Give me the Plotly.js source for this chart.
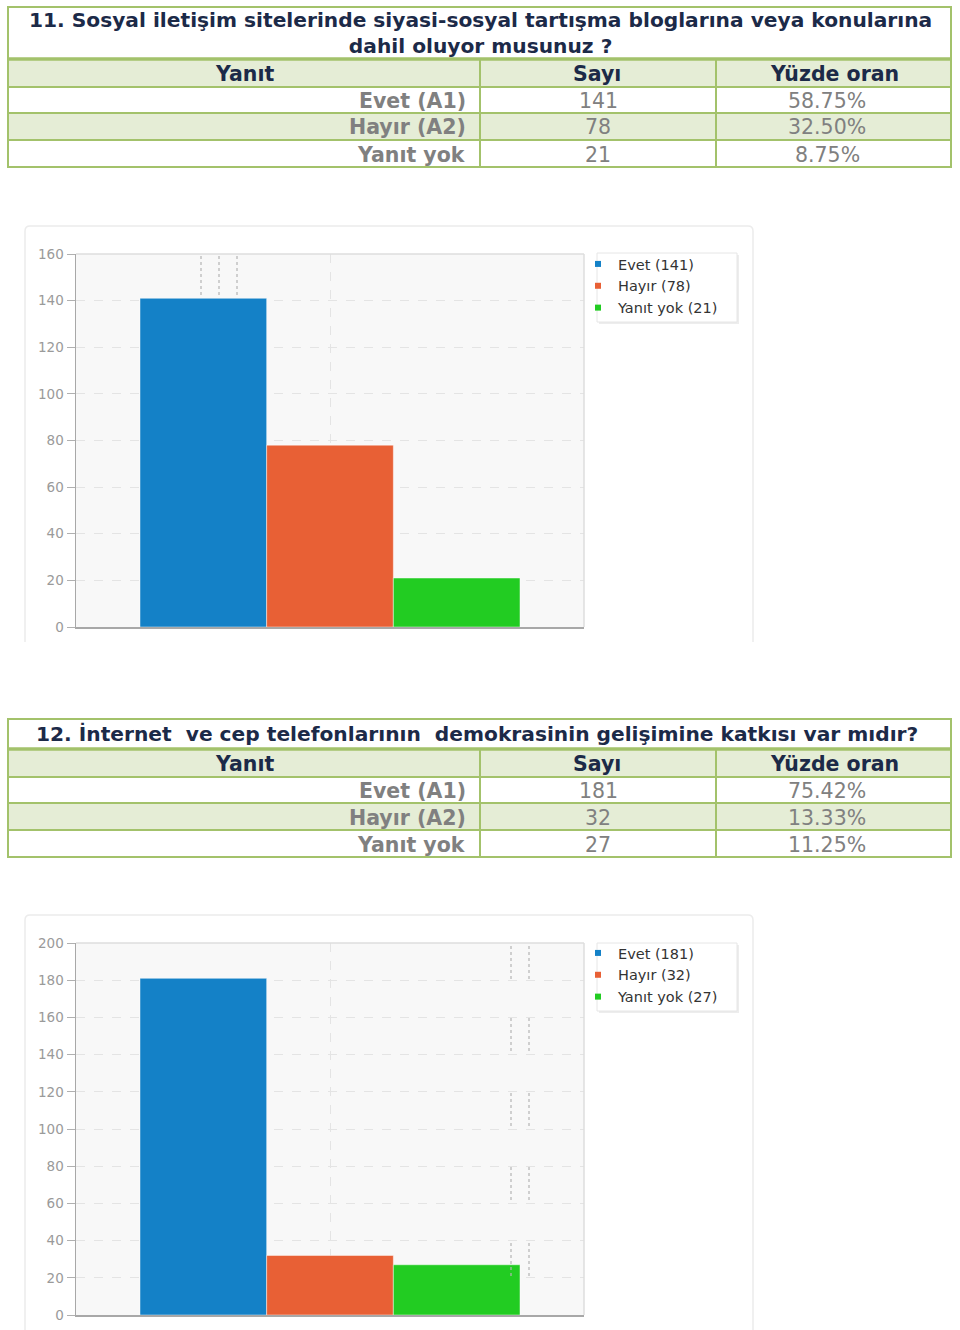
<!DOCTYPE html>
<html>
<head>
<meta charset="utf-8">
<script src="https://cdn.plot.ly/plotly-3.0.1.min.js"></script>
<style>
  html, body { margin: 0; padding: 0; background: #ffffff; }
  #chart { width: 960px; height: 1330px; }
</style>
</head>
<body>
<div id="chart"></div>
<script>
// ---------- DATA ----------
const headers = ['Yanıt', 'Sayı', 'Yüzde oran'];
const answerLabels = ['Evet (A1)', 'Hayır (A2)', 'Yanıt yok'];
const seriesNames = ['Evet', 'Hayır', 'Yanıt yok'];

const q11Title = ['11. Sosyal iletişim sitelerinde siyasi-sosyal tartışma bloglarına veya konularına', 'dahil oluyor musunuz ?'];
const q11Counts = [141, 78, 21];
const q11Percents = ['58.75%', '32.50%', '8.75%'];

const q12Title = ['12. İnternet\u00a0 ve cep telefonlarının\u00a0 demokrasinin gelişimine katkısı var mıdır?'];
const q12Counts = [181, 32, 27];
const q12Percents = ['75.42%', '13.33%', '11.25%'];

// ---------- STYLE ----------
const W = 960, H = 1330;
const FONT = 'DejaVu Sans, Verdana, sans-serif';
const seriesColors = ['#1481c7', '#e86035', '#22cc22'];
const tableLine = '#a3c26b';
const tableFill = '#e5edd6';
const navy = '#1c2a48';
const gray = '#808080';

function X(p) { return p / W; }
function Y(p) { return 1 - p / H; }

const shapes = [];
const annotations = [];

function rect(x0, y0, x1, y1, opts) {
  shapes.push(Object.assign({
    type: 'rect', xref: 'paper', yref: 'paper',
    x0: X(x0), x1: X(x1), y0: Y(y0), y1: Y(y1), layer: 'above'
  }, opts));
}
function line(x0, y0, x1, y1, color, width, dash) {
  shapes.push({
    type: 'line', xref: 'paper', yref: 'paper',
    x0: X(x0), x1: X(x1), y0: Y(y0), y1: Y(y1), layer: 'above',
    line: { color: color, width: width, dash: dash || 'solid' }
  });
}
function text(str, x, y, opts) {
  annotations.push(Object.assign({
    xref: 'paper', yref: 'paper', x: X(x), y: Y(y), text: str, showarrow: false,
    xanchor: 'center', yanchor: 'middle'
  }, opts));
}

// table builder
function drawTable(t, titleLines, counts, percents) {
  const L = 8, R = 951, C1 = 480, C2 = 716;
  rect(L, t.sep, R, t.rows[0], { fillcolor: tableFill, line: { width: 0 } });
  rect(L, t.rows[1], R, t.rows[2], { fillcolor: tableFill, line: { width: 0 } });
  t.rows.forEach(function (yy) { line(L, yy, R, yy, tableLine, 2); });
  line(L, t.sep, R, t.sep, tableLine, 3.5);
  line(C1, t.sep, C1, t.bottom, tableLine, 2);
  line(C2, t.sep, C2, t.bottom, tableLine, 2);
  rect(L, t.top, R, t.bottom, { line: { color: tableLine, width: 2 }, fillcolor: 'rgba(0,0,0,0)' });
  text(titleLines.join('<br>'), t.titleX, t.titleY, {
    font: { family: FONT, size: 20.2, color: navy, weight: 700 }
  });
  const hy = (t.sep + t.rows[0]) / 2 + 1;
  const hf = { family: FONT, size: 20.5, color: navy, weight: 700 };
  text(headers[0], 244, hy, { font: hf });
  text(headers[1], 597, hy, { font: hf });
  text(headers[2], 834, hy, { font: hf });
  const bounds = [t.rows[0], t.rows[1], t.rows[2], t.bottom];
  for (let i = 0; i < answerLabels.length; i++) {
    const cy = (bounds[i] + bounds[i + 1]) / 2 + 1;
    text(answerLabels[i], 468, cy, { xanchor: 'right', font: { family: FONT, size: 20.5, color: gray, weight: 700 } });
    text(String(counts[i]), 598, cy, { font: { family: FONT, size: 20.5, color: gray } });
    text(percents[i], 827, cy, { font: { family: FONT, size: 20.5, color: gray } });
  }
}

drawTable({ top: 7, sep: 59, rows: [87, 113, 140], bottom: 167, titleX: 480, titleY: 32.5 }, q11Title, q11Counts, q11Percents);
drawTable({ top: 719, sep: 749, rows: [777, 803, 830], bottom: 857, titleX: 477, titleY: 734 }, q12Title, q12Counts, q12Percents);

// chart cards (rounded top corners)
function card(top, bottom) {
  const l = X(25), r = X(753), t = Y(top), b = Y(bottom);
  const rx = 5 / W, ry = 5 / H;
  shapes.push({
    type: 'path', xref: 'paper', yref: 'paper', layer: 'below',
    path: 'M ' + l + ' ' + b + ' L ' + l + ' ' + (t - ry) + ' Q ' + l + ' ' + t + ' ' + (l + rx) + ' ' + t +
          ' L ' + (r - rx) + ' ' + t + ' Q ' + r + ' ' + t + ' ' + r + ' ' + (t - ry) + ' L ' + r + ' ' + b,
    line: { color: '#ececec', width: 1.5 }, fillcolor: 'rgba(0,0,0,0)'
  });
}
card(226, 642);
card(915, 1332);

// plot area top/right borders
function plotBorder(top, bottom) {
  line(76, top, 584, top, '#dedede', 1.5);
  line(584, top, 584, bottom, '#dedede', 1.5);
}
plotBorder(254, 627);
plotBorder(943, 1315);

// dotted artifacts
[201, 219, 237].forEach(function (x) { line(x, 256, x, 296, '#b5b5b5', 1.2, 'dot'); });
[[946, 980], [1018, 1052], [1093, 1128], [1167, 1200], [1243, 1277]].forEach(function (s) {
  line(511, s[0], 511, s[1], '#b5b5b5', 1.2, 'dot');
  line(529, s[0], 529, s[1], '#b5b5b5', 1.2, 'dot');
});

// legend boxes (with soft shadow)
function legendBox(top, bottom) {
  rect(599, top + 2, 739, bottom + 2, { fillcolor: '#ededed', line: { width: 0 } });
  rect(597, top, 737, bottom, { fillcolor: '#ffffff', line: { color: '#e6e6e6', width: 1 } });
}
legendBox(253, 322);
legendBox(943, 1011);

// ---------- TRACES ----------
const traces = [];
function addChart(counts, xa, ya, legendId) {
  for (let i = 0; i < seriesNames.length; i++) {
    traces.push({
      type: 'bar', x: [0], y: [counts[i]], xaxis: xa, yaxis: ya,
      name: seriesNames[i], showlegend: false, hoverinfo: 'skip',
      marker: { color: seriesColors[i], line: { color: 'rgba(255,255,255,0.45)', width: 1 } }
    });
  }
  for (let i = 0; i < seriesNames.length; i++) {
    traces.push({
      type: 'scatter', mode: 'markers', x: [null], y: [null], xaxis: xa, yaxis: ya,
      name: seriesNames[i] + ' (' + counts[i] + ')', legend: legendId, showlegend: true,
      marker: { color: seriesColors[i], symbol: 'square', size: 6 }
    });
  }
}
addChart(q11Counts, 'x', 'y', 'legend');
addChart(q12Counts, 'x2', 'y2', 'legend2');

const xCommon = {
  range: [-0.5, 0.5], tickvals: [0], showticklabels: false, ticks: '',
  showgrid: true, gridcolor: '#e4e4e4', griddash: 'dash', gridwidth: 1,
  zeroline: false, showline: true, linecolor: '#a8a8a8', linewidth: 1.5, fixedrange: true,
  domain: [X(76), X(584)]
};
const yCommon = {
  dtick: 20, ticks: 'outside', ticklen: 8, tickcolor: '#b0b0b0', tickwidth: 1,
  showgrid: true, gridcolor: '#e4e4e4', griddash: 'dash', gridwidth: 1,
  zeroline: false, showline: true, linecolor: '#a8a8a8', linewidth: 1.5,
  tickfont: { family: FONT, size: 13.5, color: '#9a9a9a' }, fixedrange: true
};
const legendCommon = {
  bgcolor: 'rgba(0,0,0,0)', borderwidth: 0, xanchor: 'left', yanchor: 'top',
  font: { family: FONT, size: 14.5, color: '#333333' }, tracegroupgap: 0, itemwidth: 30
};

const layout = {
  width: W, height: H, margin: { l: 0, r: 0, t: 0, b: 0 },
  paper_bgcolor: '#ffffff', plot_bgcolor: '#f8f8f8',
  barmode: 'group', bargap: 0.252, bargroupgap: 0,
  showlegend: true,
  xaxis: Object.assign({}, xCommon, { anchor: 'y' }),
  yaxis: Object.assign({}, yCommon, { range: [0, 160], anchor: 'x', domain: [Y(627), Y(254)] }),
  xaxis2: Object.assign({}, xCommon, { anchor: 'y2' }),
  yaxis2: Object.assign({}, yCommon, { range: [0, 200], anchor: 'x2', domain: [Y(1315), Y(943)] }),
  legend: Object.assign({}, legendCommon, { x: X(578), y: Y(248) }),
  legend2: Object.assign({}, legendCommon, { x: X(578), y: Y(937) }),
  shapes: shapes,
  annotations: annotations
};

Plotly.newPlot('chart', traces, layout, { displayModeBar: false, staticPlot: true });
</script>
</body>
</html>
